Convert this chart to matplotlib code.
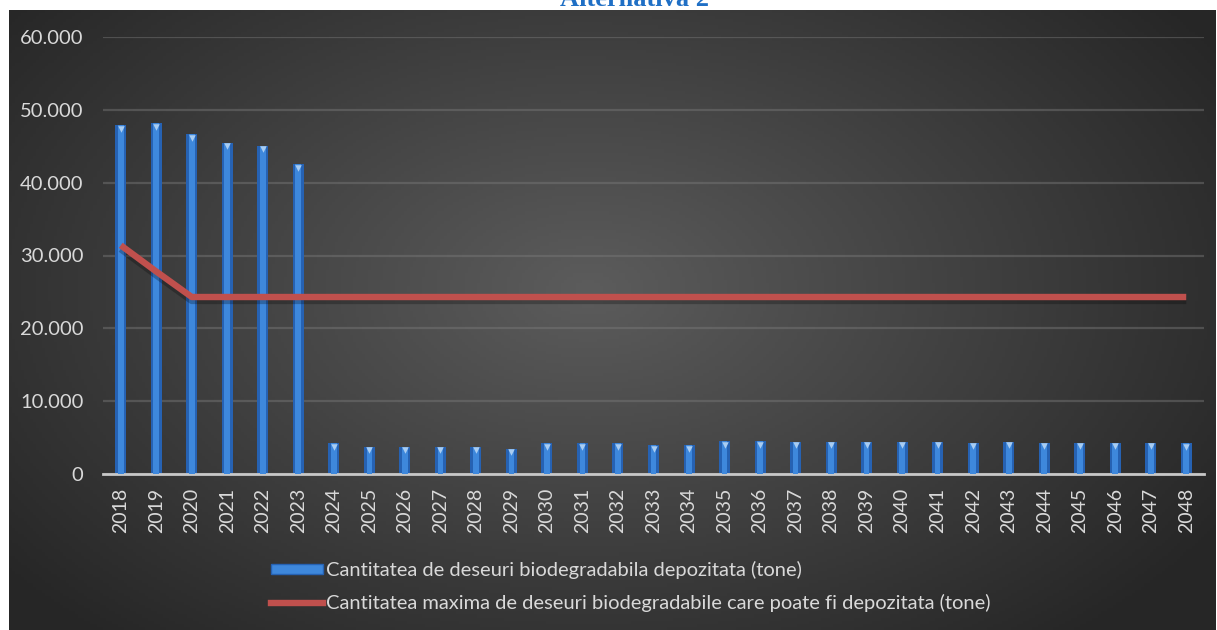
import numpy as np
import matplotlib
matplotlib.use("Agg")
import matplotlib.pyplot as plt
from matplotlib.patches import Patch
from matplotlib.lines import Line2D

plt.rcParams['font.family'] = ['Lato', 'DejaVu Sans']

years = [str(y) for y in range(2018, 2049)]
depozitata = [47900, 48200, 46700, 45500, 45100, 42500,
              4200, 3750, 3750, 3750, 3750, 3500, 4200, 4200, 4200, 3950, 3950,
              4550, 4550, 4450, 4450, 4450, 4450, 4450, 4300, 4450, 4300, 4300,
              4300, 4300, 4200]
maxima = [31400, 27800, 24300] + [24300] * 28
yticks = [0, 10000, 20000, 30000, 40000, 50000, 60000]
yticklabels = ['0', '10.000', '20.000', '30.000', '40.000', '50.000', '60.000']

label_bar = 'Cantitatea de deseuri biodegradabila depozitata (tone)'
label_line = 'Cantitatea maxima de deseuri biodegradabile care poate fi depozitata (tone)'

W, H = 1217, 630
fig = plt.figure(figsize=(W / 100, H / 100), dpi=100)
fig.patch.set_facecolor('white')

# dark radial background of the chart area
bg = fig.add_axes([9 / W, 0, (W - 10) / W, (H - 10) / H])
gx, gy = np.meshgrid(np.linspace(0, 1, 400), np.linspace(0, 1, 200))
r = np.sqrt(((gx - 0.48) / 0.62) ** 2 + ((gy - 0.45) / 0.75) ** 2)
t = np.clip(r, 0, 1)[..., None]
inner = np.array([0x5c, 0x5c, 0x5c]) / 255
outer = np.array([0x26, 0x26, 0x26]) / 255
img = inner * (1 - t) + outer * t
bg.imshow(img, aspect='auto', extent=[0, 1, 0, 1], origin='upper')
bg.axis('off')

ax = fig.add_axes([103 / W, 1 - 474 / H, (1204 - 103) / W, (474 - 37) / H])
ax.patch.set_alpha(0)
x = np.arange(len(years))

ax.set_ylim(0, 60000)
ax.set_xlim(-0.5, len(years) - 0.5)
ax.set_yticks(yticks)
ax.set_yticklabels(yticklabels)
ax.yaxis.grid(True, color='#7a7a7a', linewidth=1.6, alpha=0.45)
ax.set_axisbelow(True)

# bars with a simple shaded look
ax.bar(x, depozitata, width=0.31, color='#2662b3', zorder=2)
ax.bar(x, depozitata, width=0.16, color='#3e88dc', zorder=3)
ax.scatter(x, np.array(depozitata) - 500, marker='v', s=22, color='#a9cdf2',
           linewidths=0, zorder=4)

# red line with a soft shadow
ax.plot(x, np.array(maxima) - 500, color='black', linewidth=5, alpha=0.25,
        solid_capstyle='butt', zorder=4)
ax.plot(x, maxima, color='#c0504d', linewidth=4.6, solid_capstyle='butt', zorder=5)

ax.set_xticks(x)
ax.set_xticklabels(years, rotation=90)
ax.tick_params(axis='both', length=0, colors='#d9d9d9')
ax.tick_params(axis='y', labelsize=14.5, pad=14)
ax.tick_params(axis='x', labelsize=14, pad=10)
for s in ['top', 'right', 'left']:
    ax.spines[s].set_visible(False)
ax.spines['bottom'].set_color('#c8c8c8')
ax.spines['bottom'].set_linewidth(2)

handles = [Patch(facecolor='#3e88dc', edgecolor='#2662b3'),
           Line2D([0], [0], color='#c0504d', linewidth=4.6)]
leg = fig.legend(handles, [label_bar, label_line], loc='upper left',
                 bbox_to_anchor=(263 / W, 1 - 553 / H), frameon=False,
                 fontsize=14.5, handlelength=2.6, handleheight=0.35,
                 handletextpad=0.12, labelspacing=0.75, borderaxespad=0)
for txt in leg.get_texts():
    txt.set_color('#d9d9d9')

fig.text(634 / W, 1 - 6 / H, 'Alternativa 2', ha='center', va='baseline',
         fontsize=19, fontweight='bold', color='#1f6fc5', family='Liberation Serif')

fig.savefig('out.png', dpi=100)
